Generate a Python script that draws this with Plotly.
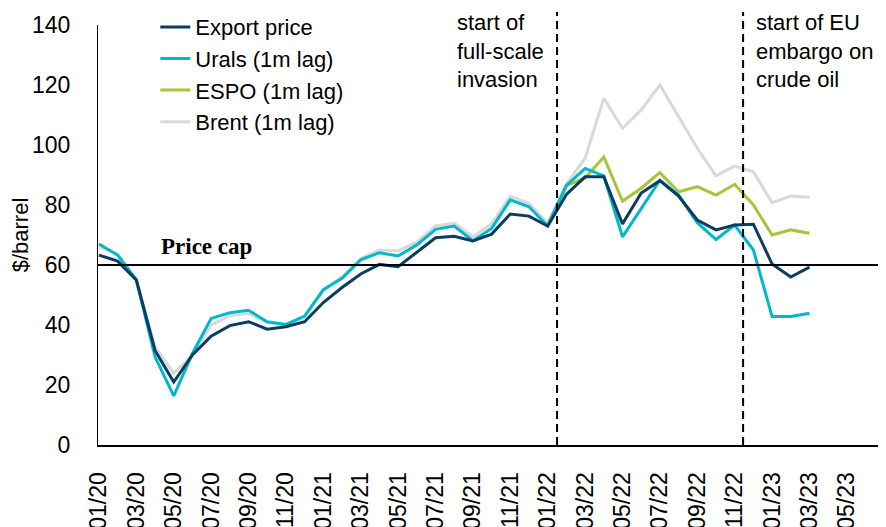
import plotly.graph_objects as go

# ---- data ----
month_labels = ["01/20","02/20","03/20","04/20","05/20","06/20","07/20","08/20","09/20","10/20","11/20","12/20",
                "01/21","02/21","03/21","04/21","05/21","06/21","07/21","08/21","09/21","10/21","11/21","12/21",
                "01/22","02/22","03/22","04/22","05/22","06/22","07/22","08/22","09/22","10/22","11/22","12/22",
                "01/23","02/23","03/23","04/23","05/23"]

export_price = [63.3, 61.3, 55.0, 31.5, 21.0, 30.0, 36.3, 39.8, 41.1, 38.6, 39.4, 41.1,
                47.5, 52.5, 57.0, 60.2, 59.4, 64.2, 69.1, 69.6, 68.0, 70.3, 77.0, 76.3,
                73.0, 83.5, 89.4, 89.4, 73.7, 84.0, 88.1, 83.0, 75.0, 71.7, 73.3, 73.6,
                60.3, 56.0, 59.3]
urals = [67.0, 63.3, 55.0, 29.4, 16.4, 30.5, 42.2, 44.1, 44.9, 41.1, 40.2, 43.0,
         51.8, 55.6, 61.7, 64.1, 63.0, 66.7, 71.9, 73.0, 68.1, 72.2, 81.7, 79.4,
         73.0, 86.5, 92.2, 89.7, 69.4, 78.9, 88.3, 83.3, 74.1, 68.5, 73.3, 65.0,
         42.8, 42.8, 43.9]
espo = [None]*24 + [73.3, 86.5, 89.0, 96.0, 81.3, 85.6, 90.8, 84.4, 86.1, 83.3, 86.9, 80.0,
                    70.0, 71.7, 70.6]
brent = [66.0, 63.7, 55.0, 32.8, 23.9, 30.0, 40.0, 43.0, 43.9, 40.8, 40.0, 42.6,
         51.5, 56.1, 62.2, 65.0, 64.7, 67.6, 73.0, 73.9, 69.4, 73.7, 83.0, 80.5,
         74.0, 87.0, 95.6, 115.6, 105.6, 111.7, 120.0, 109.4, 98.9, 89.7, 93.0, 91.1,
         80.8, 83.0, 82.6]

price_cap = 60
# event positions in month-index units (fractional month)
event_positions = [24.5, 34.45]
event_texts = ["start of<br>full-scale<br>invasion", "start of EU<br>embargo on<br>crude oil"]

tick_step = 2
y_ticks = [0, 20, 40, 60, 80, 100, 120, 140]

# ---- styles ----
FONT = "Liberation Sans, Arial, sans-serif"
series = [
    ("Brent (1m lag)", brent, "#D9D9D9", 4),
    ("ESPO (1m lag)", espo, "#A5C63B", 3),
    ("Urals (1m lag)", urals, "#00B8CC", 2),
    ("Export price", export_price, "#0B3C61", 1),
]

fig = go.Figure()
for name, vals, color, rank in series:
    fig.add_trace(go.Scatter(
        x=list(range(len(vals))), y=vals, mode="lines", name=name,
        line=dict(color=color, width=3), legendrank=rank, connectgaps=False,
    ))

tickvals = list(range(0, len(month_labels), tick_step))
ticktext = [month_labels[i] for i in tickvals]

fig.update_layout(
    width=886, height=527,
    margin=dict(l=90, r=0, t=17, b=90, autoexpand=False),
    paper_bgcolor="white", plot_bgcolor="white",
    font=dict(family=FONT, size=22, color="black"),
    showlegend=True,
    legend=dict(x=0.072, y=1.045, xanchor="left", yanchor="top",
                bgcolor="rgba(0,0,0,0)", borderwidth=0,
                font=dict(size=22), tracegroupgap=0),
    xaxis=dict(range=[-0.05, 42.52], tickmode="array", tickvals=tickvals, ticktext=ticktext,
               tickangle=-90, showgrid=False, zeroline=False, showline=True, automargin=False,
               linecolor="black", linewidth=2, ticks="", ticklabelstandoff=16,
               tickfont=dict(size=23)),
    yaxis=dict(range=[0, 140], tickvals=y_ticks, showgrid=False, zeroline=False, automargin=False,
               showline=True, linecolor="black", linewidth=1.3, ticks="",
               ticklabelstandoff=22, tickfont=dict(size=23),
               title=dict(text="$/barrel", font=dict(size=22), standoff=12)),
)

# price cap line
fig.add_shape(type="line", xref="paper", x0=0, x1=1, yref="y", y0=price_cap, y1=price_cap,
              line=dict(color="black", width=2))
fig.add_annotation(x=3.2, y=price_cap, xref="x", yref="y", xanchor="left", yanchor="bottom",
                   text="<b>Price cap</b>", showarrow=False, yshift=4,
                   font=dict(family="Liberation Serif, Times New Roman, serif", size=23, color="black"))

# event lines
for pos, txt, side in zip(event_positions, event_texts, ["right", "left"]):
    fig.add_shape(type="line", xref="x", x0=pos, x1=pos, yref="paper", y0=0, y1=1.031,
                  line=dict(color="black", width=2, dash="8px,5px"))
    fig.add_annotation(x=pos + (-0.6 if side == "right" else 0.6), y=1.041, xref="x", yref="paper",
                       xanchor=side, yanchor="top", align="left", text=txt, showarrow=False,
                       font=dict(size=22, color="black"))

fig.write_html("out.html")
